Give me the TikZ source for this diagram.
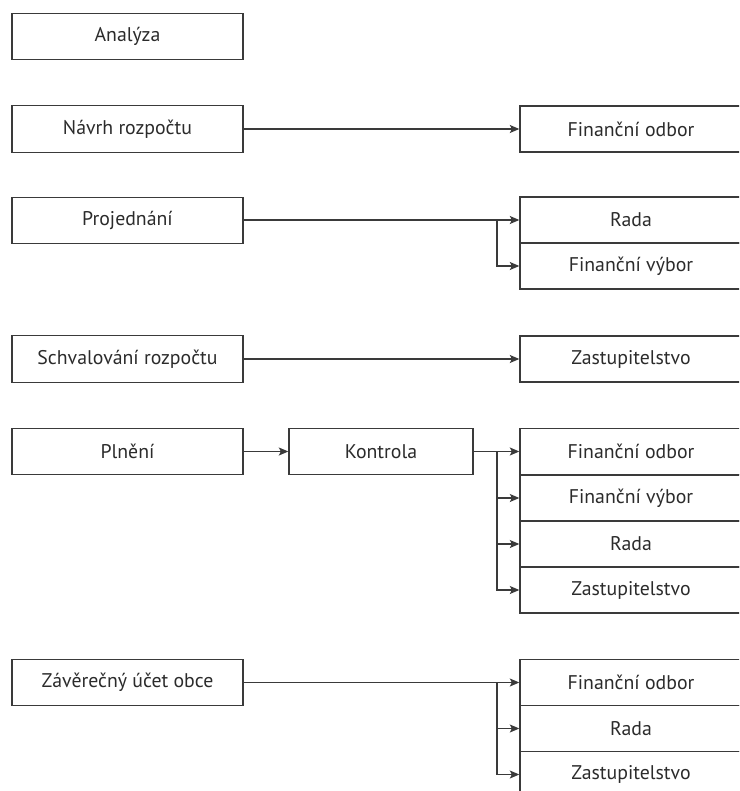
\documentclass[tikz,border=0pt]{standalone}
\usepackage{fontspec}
\setmainfont{PT Sans}
\usetikzlibrary{arrows.meta}
\definecolor{ln}{HTML}{3A3A3A}
\definecolor{tx}{HTML}{2B2B2B}
\begin{document}
\begin{tikzpicture}[x=1pt,y=-1pt,
  box/.style={draw=ln,line width=1.4pt,rectangle,inner sep=0pt,text=tx,font=\fontsize{19.8}{21}\selectfont},
  lbox/.style={box,minimum width=231pt,minimum height=46.5pt},
  rbox/.style={box,minimum width=222pt,minimum height=46pt},
  kbox/.style={box,minimum width=184pt,minimum height=46.5pt},
  arr/.style={draw=ln,line width=1.2pt,-{Stealth[length=9.5pt,width=8pt,inset=2pt]}}]
\useasboundingbox (0,0) rectangle (739,791);
\clip (0,0) rectangle (739,791);
% left column
\node[lbox] (ana) at (127.5,36.5) {Analýza};
\node[lbox] (nav) at (127.5,129) {Návrh rozpočtu};
\node[lbox] (proj) at (127.5,220.5) {Projednání};
\node[lbox] (schv) at (127.5,359) {Schvalování rozpočtu};
\node[lbox] (pln) at (127.5,451.5) {Plnění};
\node[kbox] (kon) at (381,451.5) {Kontrola};
\node[lbox] (zav) at (127.5,682.5) {Závěrečný účet obce};
% right column
\node[rbox] (fo1) at (631,129) {Finanční odbor};
\node[rbox] (ra1) at (631,220) {Rada};
\node[rbox] (fv1) at (631,266) {Finanční výbor};
\node[rbox] (za1) at (631,359) {Zastupitelstvo};
\node[rbox] (fo2) at (631,451.5) {Finanční odbor};
\node[rbox] (fv2) at (631,498) {Finanční výbor};
\node[rbox] (ra2) at (631,544) {Rada};
\node[rbox] (za2) at (631,590) {Zastupitelstvo};
\node[rbox] (fo3) at (631,682.5) {Finanční odbor};
\node[rbox] (ra3) at (631,728.5) {Rada};
\node[rbox] (za3) at (631,774.5) {Zastupitelstvo};
% branch points
\coordinate (b1) at (497,220);
\coordinate (b2) at (497,451.5);
\coordinate (b3) at (497,682.5);
% connectors
\draw[arr] (nav.east) -- (fo1.west);
\draw[arr] (proj.east |- ra1.west) -- (ra1.west);
\draw[arr] (b1) |- (fv1.west);
\draw[arr] (schv.east) -- (za1.west);
\draw[arr] (pln.east) -- (kon.west);
\draw[arr] (kon.east) -- (fo2.west);
\draw[arr] (b2) |- (fv2.west);
\draw[arr] (b2) |- (ra2.west);
\draw[arr] (b2) |- (za2.west);
\draw[arr] (zav.east) -- (fo3.west);
\draw[arr] (b3) |- (ra3.west);
\draw[arr] (b3) |- (za3.west);
\end{tikzpicture}
\end{document}
